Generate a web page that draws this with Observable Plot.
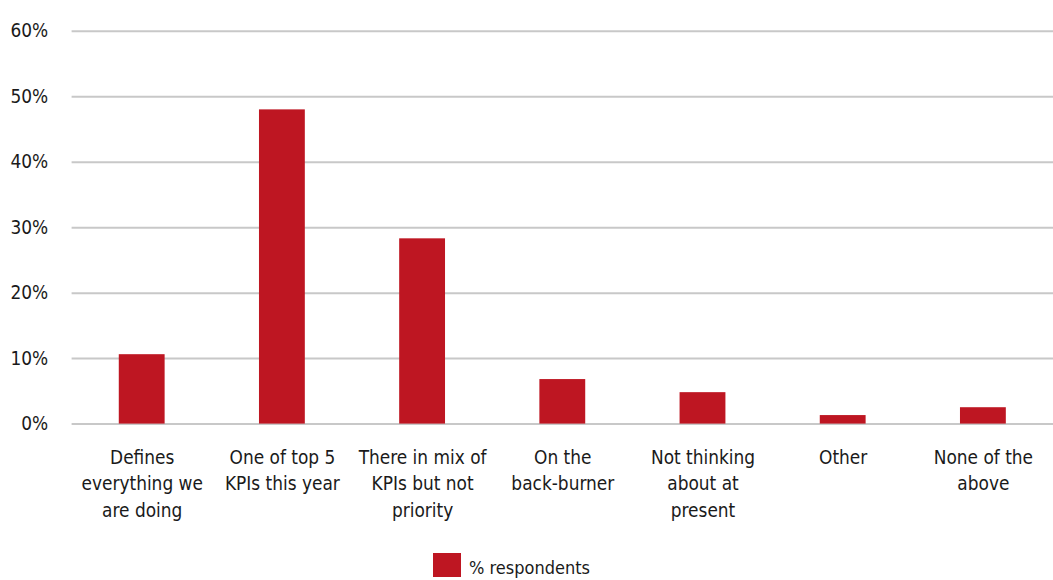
<!DOCTYPE html>
<html>
<head>
<meta charset="utf-8">
<script src="https://cdn.jsdelivr.net/npm/d3@7"></script>
<script src="https://cdn.jsdelivr.net/npm/@observablehq/plot@0.6"></script>
<style>
  html, body { margin: 0; padding: 0; background: #fff; overflow: hidden; }
  body { width: 1053px; height: 580px; font-family: "Liberation Sans Narrow", "Arial Narrow", "DejaVu Sans Condensed", sans-serif; color: #1a1a1a; }
  #chart { width: 1053px; overflow: hidden; }
  #legend { display: flex; align-items: flex-start; margin-left: 433px; margin-top: 6px; height: 30px; }
  #legend .swatch { width: 28px; height: 24px; background: #be1622; }
  #legend .label { font-size: 18px; line-height: 20px; margin-left: 8px; margin-top: 5px; }
</style>
</head>
<body>
<div id="chart"></div>
<div id="legend"><span class="swatch"></span><span class="label">% respondents</span></div>
<script>
// Survey responses: how the topic ranks among organisational priorities
const categories = [
  "Defines everything we are doing",
  "One of top 5 KPIs this year",
  "There in mix of KPIs but not priority",
  "On the back-burner",
  "Not thinking about at present",
  "Other",
  "None of the above"
];
// Wrapped category labels shown under the bars
const categoryLabels = [
  "Defines\neverything we\nare doing",
  "One of top 5\nKPIs this year",
  "There in mix of\nKPIs but not\npriority",
  "On the\nback-burner",
  "Not thinking\nabout at\npresent",
  "Other",
  "None of the\nabove"
];
const respondents = [10.6, 48.0, 28.3, 6.8, 4.8, 1.3, 2.5];
const yTicks = [0, 10, 20, 30, 40, 50, 60];
const seriesName = "% respondents";

const data = categories.map((c, i) => ({category: c, label: categoryLabels[i], value: respondents[i], series: seriesName}));

const red = "#be1622";
const font = `"Liberation Sans Narrow", "Arial Narrow", "DejaVu Sans Condensed", sans-serif`;

const chart = Plot.plot({
  width: 1059,
  height: 550,
  marginLeft: 72,
  marginRight: 0,
  marginTop: 31,
  marginBottom: 124,
  style: {fontFamily: font, fontSize: "19px", color: "#1a1a1a", background: "#fff", overflow: "visible"},
  x: {domain: categories, paddingInner: 0.673, paddingOuter: 0.3365, round: false, axis: null},
  y: {domain: [0, 60], ticks: yTicks, tickFormat: d => d + "%", label: null},
  marks: [
    Plot.ruleY(yTicks, {stroke: "#c8c8c8", strokeWidth: 2}),
    Plot.axisY({ticks: yTicks, tickSize: 0, tickPadding: 24, tickFormat: d => d + "%", label: null, fontSize: 19}),
    Plot.barY(data, {x: "category", y: "value", fill: red}),
    Plot.text(data, {
      x: "category",
      y: 0,
      text: "label",
      lineAnchor: "top",
      lineHeight: 1.4,
      dy: 21,
      fontSize: 19,
      fill: "#1a1a1a"
    })
  ]
});
document.getElementById("chart").appendChild(chart);
</script>
</body>
</html>
